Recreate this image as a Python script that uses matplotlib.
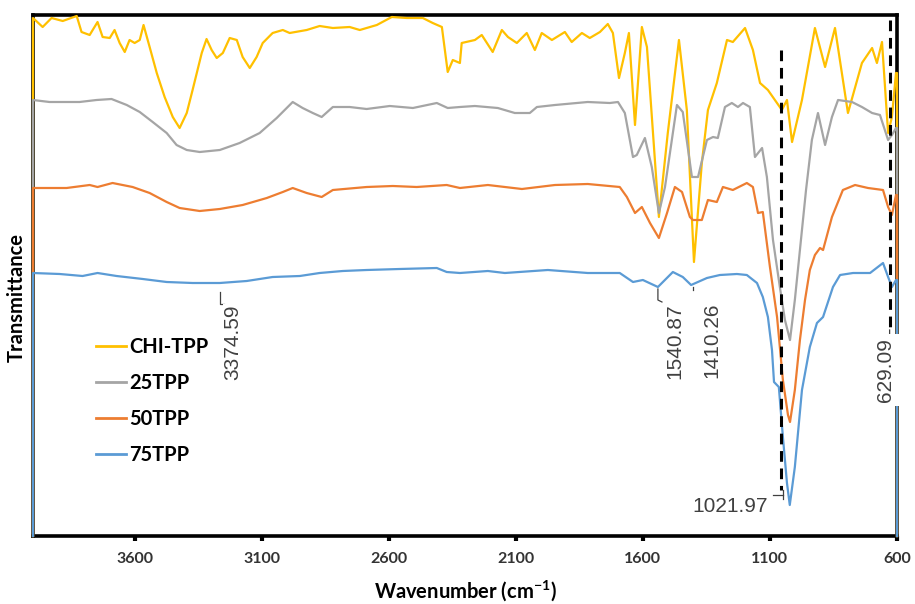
import matplotlib
matplotlib.use("Agg")
import matplotlib.pyplot as plt

plt.rcParams['font.family'] = ['Lato', 'DejaVu Sans']
plt.rcParams['mathtext.fontset'] = 'custom'
plt.rcParams['mathtext.rm'] = 'Lato:bold'
plt.rcParams['mathtext.bf'] = 'Lato:bold'
plt.rcParams['mathtext.it'] = 'Lato:bold'

# FTIR spectra, stacked with offsets (transmittance in arbitrary units)
chi_wn = [4000, 4000, 3962, 3927, 3883, 3828, 3809, 3777, 3746, 3726, 3698, 3679, 3659, 3639,
          3620, 3600, 3580, 3565, 3541, 3513, 3482, 3450, 3423, 3395, 3372, 3336, 3317, 3297,
          3277, 3253, 3226, 3198, 3175, 3147, 3120, 3096, 3057, 3017, 2990, 2923, 2872, 2820,
          2754, 2714, 2647, 2588, 2529, 2466, 2427, 2391, 2368, 2348, 2320, 2313, 2261, 2234,
          2191, 2155, 2131, 2096, 2057, 2025, 1998, 1958, 1907, 1880, 1840, 1809, 1769, 1738,
          1718, 1694, 1671, 1655, 1631, 1604, 1584, 1537, 1502, 1458, 1427, 1399, 1368, 1344,
          1309, 1269, 1246, 1198, 1167, 1139, 1108, 1053, 1033, 1013, 974, 923, 883, 844, 793,
          738, 698, 679, 659, 635, 620, 604, 600, 600]
chi_t = [0, 518, 509, 518, 515, 520, 504, 501, 514, 499, 498, 506, 493, 484,
         496, 493, 496, 511, 489, 463, 439, 419, 408, 423, 446, 483, 497, 486,
         478, 483, 498, 496, 479, 468, 479, 493, 503, 506, 503, 506, 510, 508,
         509, 506, 511, 519, 518, 518, 513, 509, 464, 476, 473, 493, 496, 501,
         484, 506, 499, 493, 503, 486, 503, 496, 504, 494, 503, 498, 504, 512,
         503, 458, 483, 503, 411, 509, 489, 319, 403, 496, 426, 274, 373, 426,
         453, 496, 494, 508, 486, 453, 446, 426, 436, 394, 436, 508, 469, 508, 423,
         473, 488, 473, 494, 403, 419, 463, 463, 0]

tpp25_wn = [4000, 4000, 3935, 3868, 3817, 3750, 3691, 3631, 3580, 3529, 3474, 3435, 3395, 3344,
            3265, 3187, 3108, 3041, 2978, 2939, 2899, 2864, 2820, 2754, 2687, 2596, 2505, 2411,
            2368, 2320, 2261, 2171, 2104, 2045, 2017, 1946, 1817, 1730, 1698, 1671, 1639, 1624,
            1592, 1565, 1537, 1513, 1466, 1443, 1407, 1383, 1348, 1324, 1305, 1277, 1250, 1226,
            1206, 1179, 1159, 1131, 1112, 1088, 1061, 1041, 1021, 1002, 982, 958, 935, 911, 883,
            856, 832, 777, 738, 698, 667, 635, 620, 604, 600, 600]
tpp25_t = [0, 436, 434, 434, 434, 436, 437, 431, 424, 414, 403, 391, 386, 384,
           386, 393, 403, 418, 434, 428, 423, 419, 429, 429, 427, 430, 428, 433,
           428, 429, 430, 428, 423, 423, 429, 431, 434, 433, 434, 423, 379, 381,
           398, 369, 323, 349, 431, 424, 359, 359, 396, 399, 398, 429, 433, 429,
           433, 429, 379, 388, 359, 296, 249, 216, 196, 236, 286, 346, 396, 423, 391,
           419, 436, 434, 429, 423, 421, 396, 401, 408, 408, 0]

tpp50_wn = [4000, 4000, 3868, 3777, 3746, 3687, 3608, 3541, 3474, 3423, 3344, 3265, 3175, 3080,
            3017, 2978, 2923, 2864, 2820, 2687, 2584, 2490, 2372, 2320, 2210, 2076, 1946, 1817,
            1691, 1663, 1631, 1604, 1572, 1537, 1505, 1474, 1446, 1415, 1403, 1368, 1344, 1309,
            1285, 1246, 1191, 1167, 1147, 1128, 1100, 1072, 1049, 1029, 1021, 1002, 982, 962,
            943, 923, 903, 891, 856, 813, 765, 714, 655, 635, 620, 604, 600, 600]
tpp50_t = [0, 348, 348, 351, 349, 353, 349, 343, 334, 328, 325, 327, 331, 338,
           344, 348, 343, 339, 346, 349, 350, 349, 351, 348, 351, 347, 351, 352,
           349, 339, 323, 329, 313, 298, 323, 349, 344, 319, 316, 316, 336, 334,
           349, 346, 353, 349, 323, 324, 269, 219, 156, 121, 114, 146, 196, 236,
           266, 281, 288, 286, 319, 346, 351, 348, 346, 329, 321, 341, 341, 0]

tpp75_wn = [4000, 4000, 3895, 3805, 3746, 3671, 3568, 3474, 3372, 3265, 3159, 3057, 2950, 2872,
            2781, 2687, 2557, 2411, 2372, 2320, 2210, 2143, 1974, 1817, 1691, 1639, 1600,
            1540.87, 1482, 1443, 1410.26, 1348, 1297, 1230, 1191, 1151, 1128, 1108, 1092, 1084,
            1065, 1049, 1033, 1021.97, 1002, 974, 943, 915, 891, 852, 824, 773, 706, 655, 635,
            620, 604, 600, 600]
tpp75_t = [0, 263, 262, 260, 263, 260, 257, 254, 253, 253, 255, 259, 260, 263,
           265, 266, 267, 268, 264, 263, 265, 263, 266, 263, 263, 254, 256,
           249, 264, 259, 251, 258, 261, 262, 261, 253, 239, 219, 186, 154,
           149, 99, 53, 31, 69, 146, 189, 213, 219, 249, 261, 263, 263, 273, 259,
           249, 256, 256, 0]

series_names = ['CHI-TPP', '25TPP', '50TPP', '75TPP']
series_colors = ['#FFC000', '#A5A5A5', '#ED7D31', '#5B9BD5']
x_ticks = [3600, 3100, 2600, 2100, 1600, 1100, 600]

# Marked bands (cm-1)
band_3374 = 3374.59
band_1540 = 1540.87
band_1410 = 1410.26
band_1022 = 1021.97
band_629 = 629.09
guide_wn = 1055

fig = plt.figure(figsize=(9.15, 6.04), dpi=100)
ax = fig.add_axes([33 / 915, 68 / 604, 864 / 915, 521 / 604])

spectra = [(chi_wn, chi_t), (tpp25_wn, tpp25_t), (tpp50_wn, tpp50_t), (tpp75_wn, tpp75_t)]
for (wn, t), name, color in zip(spectra, series_names, series_colors):
    ax.plot(wn, t, color=color, lw=1.6, label=name, zorder=3, clip_on=False,
            solid_joinstyle='round')

ax.set_xlim(4000, 600)
ax.set_ylim(0, 521)

for side in ['left', 'right', 'top', 'bottom']:
    ax.spines[side].set_linewidth(2.6)
    ax.spines[side].set_color('black')

ax.set_yticks([])
ax.set_xticks(x_ticks, [str(v) for v in x_ticks], fontweight='bold')
ax.tick_params(axis='x', direction='out', length=3.6, width=3, pad=8,
               labelsize=11.5, labelcolor='#333333')

ax.set_xlabel('Wavenumber (cm$^{-1}$)', fontsize=14.5, fontweight='bold', labelpad=8.5)
ax.set_ylabel('Transmittance', fontsize=14.5, fontweight='bold')
ax.yaxis.set_label_coords(-0.007, 0.457)

# Dashed guide lines
dash = dict(color='black', lw=2.2, ls=(0, (3.5, 2.2)), zorder=4)
ax.plot([guide_wn, guide_wn], [486, 46], **dash)
ax.plot([band_629, band_629], [516, 206], **dash)

# Peak labels with short leader lines
lab = dict(fontsize=15, color='#404040', family=['Liberation Sans', 'DejaVu Sans'], zorder=6)
lead = dict(color='#404040', lw=0.9, zorder=5)

ax.text(3214, 231, f'{band_3374:.2f}', rotation=90, ha='center', va='top',
        bbox=dict(facecolor='white', edgecolor='none', pad=0.5), **lab)
ax.plot([3265, 3265, 3250], [244, 232, 232], **lead)

ax.text(1474, 233, f'{band_1540:.2f}', rotation=90, ha='center', va='top', **lab)
ax.plot([band_1540, band_1540, 1525], [247, 236, 234], **lead)

ax.text(1328, 233, f'{band_1410:.2f}', rotation=90, ha='center', va='top', **lab)
ax.plot([band_1410 - 8, band_1410 - 8], [249, 246], **lead)

ax.text(1108, 29, f'{band_1022:.2f}', ha='right', va='center', **lab)
ax.plot([1088, 1049], [41, 41], **lead)
ax.plot([1049, 1049], [46, 37], **lead)

ax.text(647, 198, f'{band_629:.2f}', rotation=90, ha='center', va='top',
        bbox=dict(facecolor='white', edgecolor='none', pad=3), **lab)
ax.plot([band_629, band_629, 648], [206, 201, 199], **lead)

leg = ax.legend(loc='upper left', bbox_to_anchor=(96 / 915, (604 - 337) / 604),
                bbox_transform=fig.transFigure, frameon=False,
                prop=dict(weight='bold', size=14.5), handlelength=1.5, handletextpad=0.15,
                labelspacing=0.8, borderpad=0, borderaxespad=0)
for line in leg.get_lines():
    line.set_linewidth(2)

fig.savefig('out.png', dpi=100)
